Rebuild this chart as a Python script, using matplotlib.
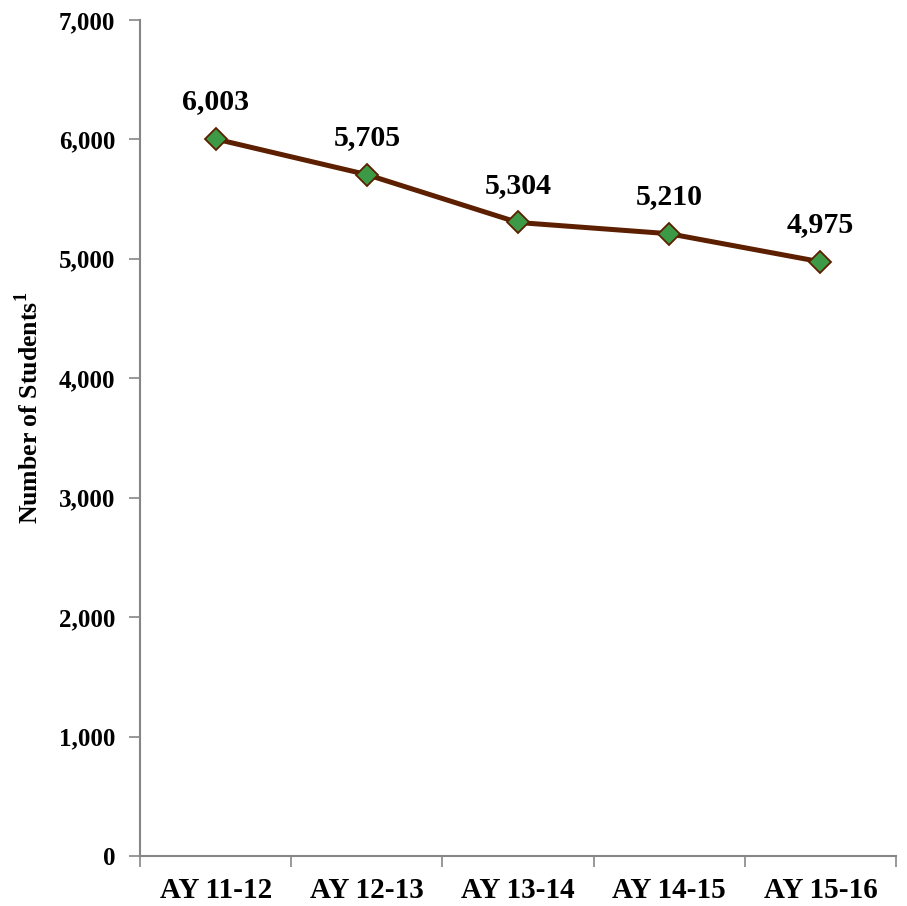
import matplotlib
matplotlib.use('Agg')
import matplotlib.pyplot as plt
import numpy as np

# data
years = ['AY 11-12', 'AY 12-13', 'AY 13-14', 'AY 14-15', 'AY 15-16']
students = [6003, 5705, 5304, 5210, 4975]
y_ticks = [0, 1000, 2000, 3000, 4000, 5000, 6000, 7000]

plt.rcParams['font.family'] = ['Liberation Serif', 'DejaVu Serif']
plt.rcParams['font.weight'] = 'bold'

axis_grey = '#868686'
line_col = '#5c1f00'
marker_col = '#3c9a46'

fig = plt.figure(figsize=(9.07, 9.06), dpi=100)
ax = fig.add_axes([0.1544, 0.0552, 0.8335, 0.9228])

x = np.arange(len(years))
ax.plot(x, students, color=line_col, linewidth=3.6, marker='D', markersize=11,
        markerfacecolor=marker_col, markeredgecolor=line_col, markeredgewidth=1.3,
        zorder=3)

# value labels above each point
for xi, v in zip(x, students):
    ax.annotate(f'{v:,}', (xi, v), xytext=(0, 17), textcoords='offset points',
                ha='center', va='bottom', fontsize=21.5, fontweight='bold')

ax.set_xlim(-0.5, len(years) - 0.5)
ax.set_ylim(0, 7000)
ax.set_yticks(y_ticks)
ax.set_yticklabels([f'{t:,}' for t in y_ticks])
ax.set_xticks(x)
ax.set_xticklabels(years)
ax.set_xticks(np.arange(-0.5, len(years)), minor=True)

ax.tick_params(axis='y', direction='out', length=8, width=1.2, color=axis_grey,
               labelsize=18, pad=10)
ax.tick_params(axis='x', which='major', length=0, labelsize=21, pad=15)
ax.tick_params(axis='x', which='minor', direction='out', length=8, width=1.2,
               color=axis_grey)

for s in ['top', 'right']:
    ax.spines[s].set_visible(False)
for s in ['left', 'bottom']:
    ax.spines[s].set_color(axis_grey)
    ax.spines[s].set_linewidth(1.5)

ax.set_ylabel('Number of Students$^{\\mathregular{1}}$', fontsize=18.5,
              fontweight='bold')
ax.yaxis.set_label_coords(-0.128, 0.536)

fig.savefig('out.png', dpi=100)
